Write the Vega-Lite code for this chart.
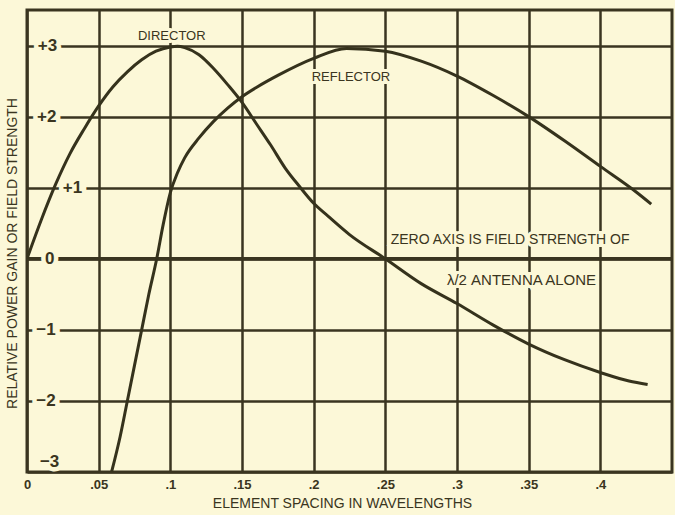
{
  "$schema": "https://vega.github.io/schema/vega-lite/v6.json",
  "autosize": "none",
  "width": 645,
  "height": 462,
  "padding": {"left": 27, "top": 10, "right": 3, "bottom": 43},
  "background": "#fcf8d8",
  "config": {
    "view": {"stroke": "#3a3520", "strokeWidth": 3, "fill": "#fcf8d8"},
    "font": "Liberation Sans"
  },
  "datasets": {
    "curves": [
      {"series": "Director", "spacing": 0, "gain": 0},
      {"series": "Director", "spacing": 0.01, "gain": 0.55},
      {"series": "Director", "spacing": 0.02, "gain": 1.05},
      {"series": "Director", "spacing": 0.03, "gain": 1.48},
      {"series": "Director", "spacing": 0.04, "gain": 1.83},
      {"series": "Director", "spacing": 0.05, "gain": 2.15},
      {"series": "Director", "spacing": 0.06, "gain": 2.42},
      {"series": "Director", "spacing": 0.07, "gain": 2.63},
      {"series": "Director", "spacing": 0.08, "gain": 2.8},
      {"series": "Director", "spacing": 0.09, "gain": 2.92},
      {"series": "Director", "spacing": 0.1, "gain": 2.98},
      {"series": "Director", "spacing": 0.105, "gain": 2.99},
      {"series": "Director", "spacing": 0.11, "gain": 2.97},
      {"series": "Director", "spacing": 0.12, "gain": 2.87},
      {"series": "Director", "spacing": 0.13, "gain": 2.68},
      {"series": "Director", "spacing": 0.14, "gain": 2.45},
      {"series": "Director", "spacing": 0.15, "gain": 2.2},
      {"series": "Director", "spacing": 0.16, "gain": 1.9},
      {"series": "Director", "spacing": 0.17, "gain": 1.6},
      {"series": "Director", "spacing": 0.18, "gain": 1.28},
      {"series": "Director", "spacing": 0.19, "gain": 1.02},
      {"series": "Director", "spacing": 0.2, "gain": 0.78},
      {"series": "Director", "spacing": 0.21, "gain": 0.6},
      {"series": "Director", "spacing": 0.225, "gain": 0.34},
      {"series": "Director", "spacing": 0.25, "gain": 0},
      {"series": "Director", "spacing": 0.275, "gain": -0.35},
      {"series": "Director", "spacing": 0.3, "gain": -0.63},
      {"series": "Director", "spacing": 0.325, "gain": -0.93},
      {"series": "Director", "spacing": 0.35, "gain": -1.2},
      {"series": "Director", "spacing": 0.375, "gain": -1.42},
      {"series": "Director", "spacing": 0.4, "gain": -1.6},
      {"series": "Director", "spacing": 0.42, "gain": -1.72},
      {"series": "Director", "spacing": 0.433, "gain": -1.77},
      {"series": "Reflector", "spacing": 0.059, "gain": -3},
      {"series": "Reflector", "spacing": 0.065, "gain": -2.5},
      {"series": "Reflector", "spacing": 0.07, "gain": -2},
      {"series": "Reflector", "spacing": 0.075, "gain": -1.5},
      {"series": "Reflector", "spacing": 0.08, "gain": -1},
      {"series": "Reflector", "spacing": 0.085, "gain": -0.5},
      {"series": "Reflector", "spacing": 0.0905, "gain": 0},
      {"series": "Reflector", "spacing": 0.095, "gain": 0.48},
      {"series": "Reflector", "spacing": 0.1, "gain": 0.93},
      {"series": "Reflector", "spacing": 0.105, "gain": 1.21},
      {"series": "Reflector", "spacing": 0.11, "gain": 1.42},
      {"series": "Reflector", "spacing": 0.12, "gain": 1.7},
      {"series": "Reflector", "spacing": 0.13, "gain": 1.93},
      {"series": "Reflector", "spacing": 0.14, "gain": 2.12},
      {"series": "Reflector", "spacing": 0.15, "gain": 2.28},
      {"series": "Reflector", "spacing": 0.16, "gain": 2.41},
      {"series": "Reflector", "spacing": 0.175, "gain": 2.58},
      {"series": "Reflector", "spacing": 0.2, "gain": 2.82},
      {"series": "Reflector", "spacing": 0.223, "gain": 2.96},
      {"series": "Reflector", "spacing": 0.25, "gain": 2.92},
      {"series": "Reflector", "spacing": 0.275, "gain": 2.78},
      {"series": "Reflector", "spacing": 0.3, "gain": 2.57},
      {"series": "Reflector", "spacing": 0.325, "gain": 2.3},
      {"series": "Reflector", "spacing": 0.35, "gain": 2.0},
      {"series": "Reflector", "spacing": 0.375, "gain": 1.66},
      {"series": "Reflector", "spacing": 0.4, "gain": 1.3},
      {"series": "Reflector", "spacing": 0.425, "gain": 0.94},
      {"series": "Reflector", "spacing": 0.4355, "gain": 0.77}
    ],
    "notes": [
      {"text": "DIRECTOR", "spacing": 0.101, "gain": 3.13, "size": 13},
      {"text": "REFLECTOR", "spacing": 0.226, "gain": 2.56, "size": 13},
      {"text": "ZERO AXIS IS FIELD STRENGTH OF", "spacing": 0.337, "gain": 0.26, "size": 14},
      {"text": "λ/2 ANTENNA ALONE", "spacing": 0.345, "gain": -0.3, "size": 15}
    ],
    "ylabels": [
      {"text": "+3", "spacing": 0.0075, "gain": 3},
      {"text": "+2", "spacing": 0.007, "gain": 2},
      {"text": "+1", "spacing": 0.025, "gain": 1},
      {"text": "0", "spacing": 0.0125, "gain": 0},
      {"text": "−1", "spacing": 0.0065, "gain": -1},
      {"text": "−2", "spacing": 0.0065, "gain": -2},
      {"text": "−3", "spacing": 0.009, "gain": -2.86}
    ],
    "zero": [{"gain": 0}]
  },
  "encoding": {
    "x": {
      "field": "spacing", "type": "quantitative",
      "scale": {"domain": [0, 0.45], "nice": false, "zero": false},
      "axis": {
        "values": [0, 0.05, 0.1, 0.15, 0.2, 0.25, 0.3, 0.35, 0.4],
        "labelExpr": "datum.value == 0 ? '0' : slice(format(datum.value, '~g'), 1)",
        "labelFlush": false,
        "zindex": 0,
        "domain": false,
        "ticks": false,
        "labelPadding": 6,
        "labelFontSize": 13,
        "labelFontWeight": "bold",
        "labelColor": "#3a3520",
        "grid": true,
        "gridColor": "#3a3520",
        "gridWidth": 2.5,
        "gridOpacity": 1,
        "title": "ELEMENT SPACING IN WAVELENGTHS",
        "titleFontSize": 14,
        "titleFontWeight": "normal",
        "titleColor": "#3a3520",
        "titleX": 315,
        "titleY": 31,
        "titleBaseline": "middle"
      }
    },
    "y": {
      "field": "gain", "type": "quantitative",
      "scale": {"domain": [-3, 3.5], "nice": false, "zero": false},
      "axis": {
        "values": [-3, -2, -1, 0, 1, 2, 3],
        "labels": false,
        "zindex": 0,
        "domain": false,
        "ticks": false,
        "grid": true,
        "gridColor": "#3a3520",
        "gridWidth": 2.5,
        "gridOpacity": 1,
        "title": "RELATIVE POWER GAIN OR FIELD STRENGTH",
        "titleFontSize": 14,
        "titleFontWeight": "normal",
        "titleColor": "#3a3520",
        "titleAngle": -90,
        "titleX": -15,
        "titleY": 243,
        "titleAlign": "center",
        "titleBaseline": "middle"
      }
    }
  },
  "layer": [
    {
      "data": {"name": "zero"},
      "mark": {"type": "rule", "color": "#3a3520", "strokeWidth": 3.5},
      "encoding": {"x": null}
    },
    {
      "data": {"name": "notes"},
      "mark": {"type": "text", "fill": "#fcf8d8", "stroke": "#fcf8d8", "strokeWidth": 6, "baseline": "middle", "align": "center"},
      "encoding": {
        "text": {"field": "text"},
        "size": {"field": "size", "type": "quantitative", "scale": null}
      }
    },
    {
      "data": {"name": "ylabels"},
      "mark": {"type": "text", "fill": "#fcf8d8", "stroke": "#fcf8d8", "strokeWidth": 9, "baseline": "middle", "align": "left", "fontSize": 17, "fontWeight": "bold"},
      "encoding": {"text": {"field": "text"}}
    },
    {
      "data": {"name": "curves"},
      "mark": {"type": "line", "interpolate": "monotone", "strokeWidth": 3, "color": "#35321c", "clip": true},
      "encoding": {"detail": {"field": "series"}}
    },
    {
      "data": {"name": "notes"},
      "mark": {"type": "text", "color": "#3a3520", "baseline": "middle", "align": "center"},
      "encoding": {
        "text": {"field": "text"},
        "size": {"field": "size", "type": "quantitative", "scale": null}
      }
    },
    {
      "data": {"name": "ylabels"},
      "mark": {"type": "text", "color": "#3a3520", "baseline": "middle", "align": "left", "fontSize": 17, "fontWeight": "bold"},
      "encoding": {"text": {"field": "text"}}
    }
  ]
}
